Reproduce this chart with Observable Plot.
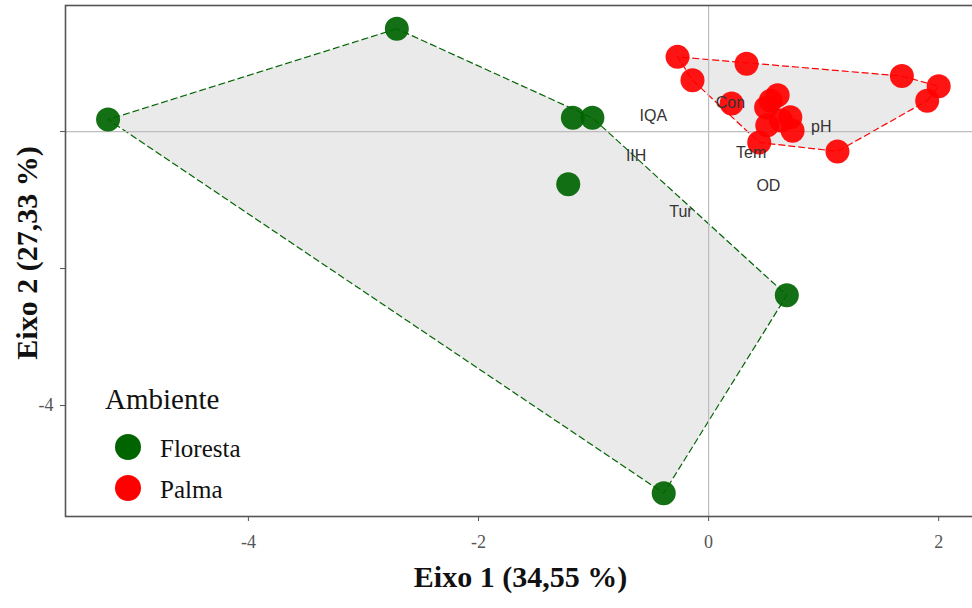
<!DOCTYPE html>
<html>
<head>
<meta charset="utf-8">
<script src="https://cdn.jsdelivr.net/npm/d3@7"></script>
<script src="https://cdn.jsdelivr.net/npm/@observablehq/plot@0.6"></script>
<style>
  html, body { margin: 0; padding: 0; background: #fff; }
  #wrap { position: relative; width: 972px; height: 608px; overflow: hidden; }
  #legend { position: absolute; left: 0; top: 0; font-family: "Liberation Serif", "Times New Roman", serif; color: #111; }
  #legend .title { position: absolute; left: 105px; top: 385px; font-size: 29px; line-height: 29px; white-space: nowrap; }
  #legend .item { position: absolute; left: 160px; font-size: 25px; line-height: 25px; white-space: nowrap; }
  #legend .sw { position: absolute; left: 115px; width: 26px; height: 26px; border-radius: 50%; }
</style>
</head>
<body>
<div id="wrap"></div>
<script>
// ---- data ----
const groups = ["Floresta", "Palma"];
const groupColors = ["#006400", "#ff0000"];

const florestaX = [-2.71, -5.22, -1.18, -1.01, -1.22, 0.68, -0.39];
const florestaY = [1.50, 0.175, 0.20, 0.20, -0.77, -2.39, -5.28];

const palmaX = [-0.27, -0.14, 0.33, 1.68, 2.00, 1.90, 0.20, 0.60, 0.50, 0.71, 0.51, 0.73, 0.44, 1.12, 0.63, 0.54];
const palmaY = [1.09, 0.75, 0.99, 0.81, 0.66, 0.45, 0.41, 0.53, 0.35, 0.21, 0.09, 0.01, -0.16, -0.29, 0.16, 0.45];

const varNames = ["IQA", "Con", "pH", "Tem", "OD", "Tur", "IIH"];
const varX = [-0.48, 0.19, 0.98, 0.37, 0.52, -0.24, -0.63];
const varY = [0.23, 0.42, 0.07, -0.31, -0.79, -1.17, -0.35];

const xTicks = [-4, -2, 0, 2];
const xTickLabels = ["-4", "-2", "0", "2"];
const yTicks = [0, -2, -4];
const yTickLabels = ["", "", "-4"];

const xTitle = "Eixo 1 (34,55 %)";
const yTitle = "Eixo 2 (27,33 %)";
const legendTitle = "Ambiente";

// ---- tables ----
const points = [
  ...florestaX.map((x, i) => ({x, y: florestaY[i], g: groups[0]})),
  ...palmaX.map((x, i) => ({x, y: palmaY[i], g: groups[1]}))
];
const vars = varNames.map((name, i) => ({name, x: varX[i], y: varY[i]}));

const plot = Plot.plot({
  width: 972,
  height: 608,
  marginLeft: 65,
  marginRight: -3,
  marginTop: 5,
  marginBottom: 92,
  x: {domain: [-5.59, 2.32]},
  y: {domain: [-5.62, 1.84]},
  color: {domain: groups, range: groupColors},
  style: {fontFamily: "Liberation Serif, serif", fontSize: "18px", background: "#fff", overflow: "visible"},
  marks: [
    Plot.hull(points, {x: "x", y: "y", z: "g", fill: "#d8d8d8", fillOpacity: 0.55, stroke: "g", strokeDasharray: "7,3", strokeWidth: 1.2}),
    Plot.ruleX([0], {stroke: "#bdbdbd", strokeWidth: 1.2}),
    Plot.ruleY([0], {stroke: "#bdbdbd", strokeWidth: 1.2}),
    Plot.dot(points, {x: "x", y: "y", fill: "g", r: 12, fillOpacity: 0.92}),
    Plot.text(vars, {x: "x", y: "y", text: "name", fontFamily: "Liberation Sans, Arial, sans-serif", fontSize: 16, fill: "#333"}),
    Plot.frame({stroke: "#555", strokeWidth: 1.6}),
    Plot.axisX({ticks: xTicks, tickFormat: (d, i) => xTickLabels[i], tickSize: 5, tickPadding: 14, stroke: "#555", fill: "#555", label: null, fontSize: 18}),
    Plot.axisY({ticks: yTicks, tickFormat: (d, i) => yTickLabels[i], tickSize: 5, tickPadding: 7, stroke: "#555", fill: "#555", label: null, fontSize: 18}),
    Plot.text([xTitle], {frameAnchor: "bottom", dy: 70, text: d => d, fontSize: 30, fontWeight: "bold", fill: "#111"}),
    Plot.text([yTitle], {frameAnchor: "left", textAnchor: "middle", dx: -38, dy: -8, rotate: -90, text: d => d, fontSize: 30, fontWeight: "bold", fill: "#111"})
  ]
});

const wrap = document.getElementById("wrap");
wrap.appendChild(plot);

// ---- legend ----
const legend = document.createElement("div");
legend.id = "legend";
const t = document.createElement("div");
t.className = "title";
t.textContent = legendTitle;
legend.appendChild(t);
groups.forEach((g, i) => {
  const sw = document.createElement("div");
  sw.className = "sw";
  sw.style.background = groupColors[i];
  sw.style.top = (434 + i * 41) + "px";
  legend.appendChild(sw);
  const it = document.createElement("div");
  it.className = "item";
  it.style.top = (436 + i * 41) + "px";
  it.textContent = g;
  legend.appendChild(it);
});
wrap.appendChild(legend);
</script>
</body>
</html>
